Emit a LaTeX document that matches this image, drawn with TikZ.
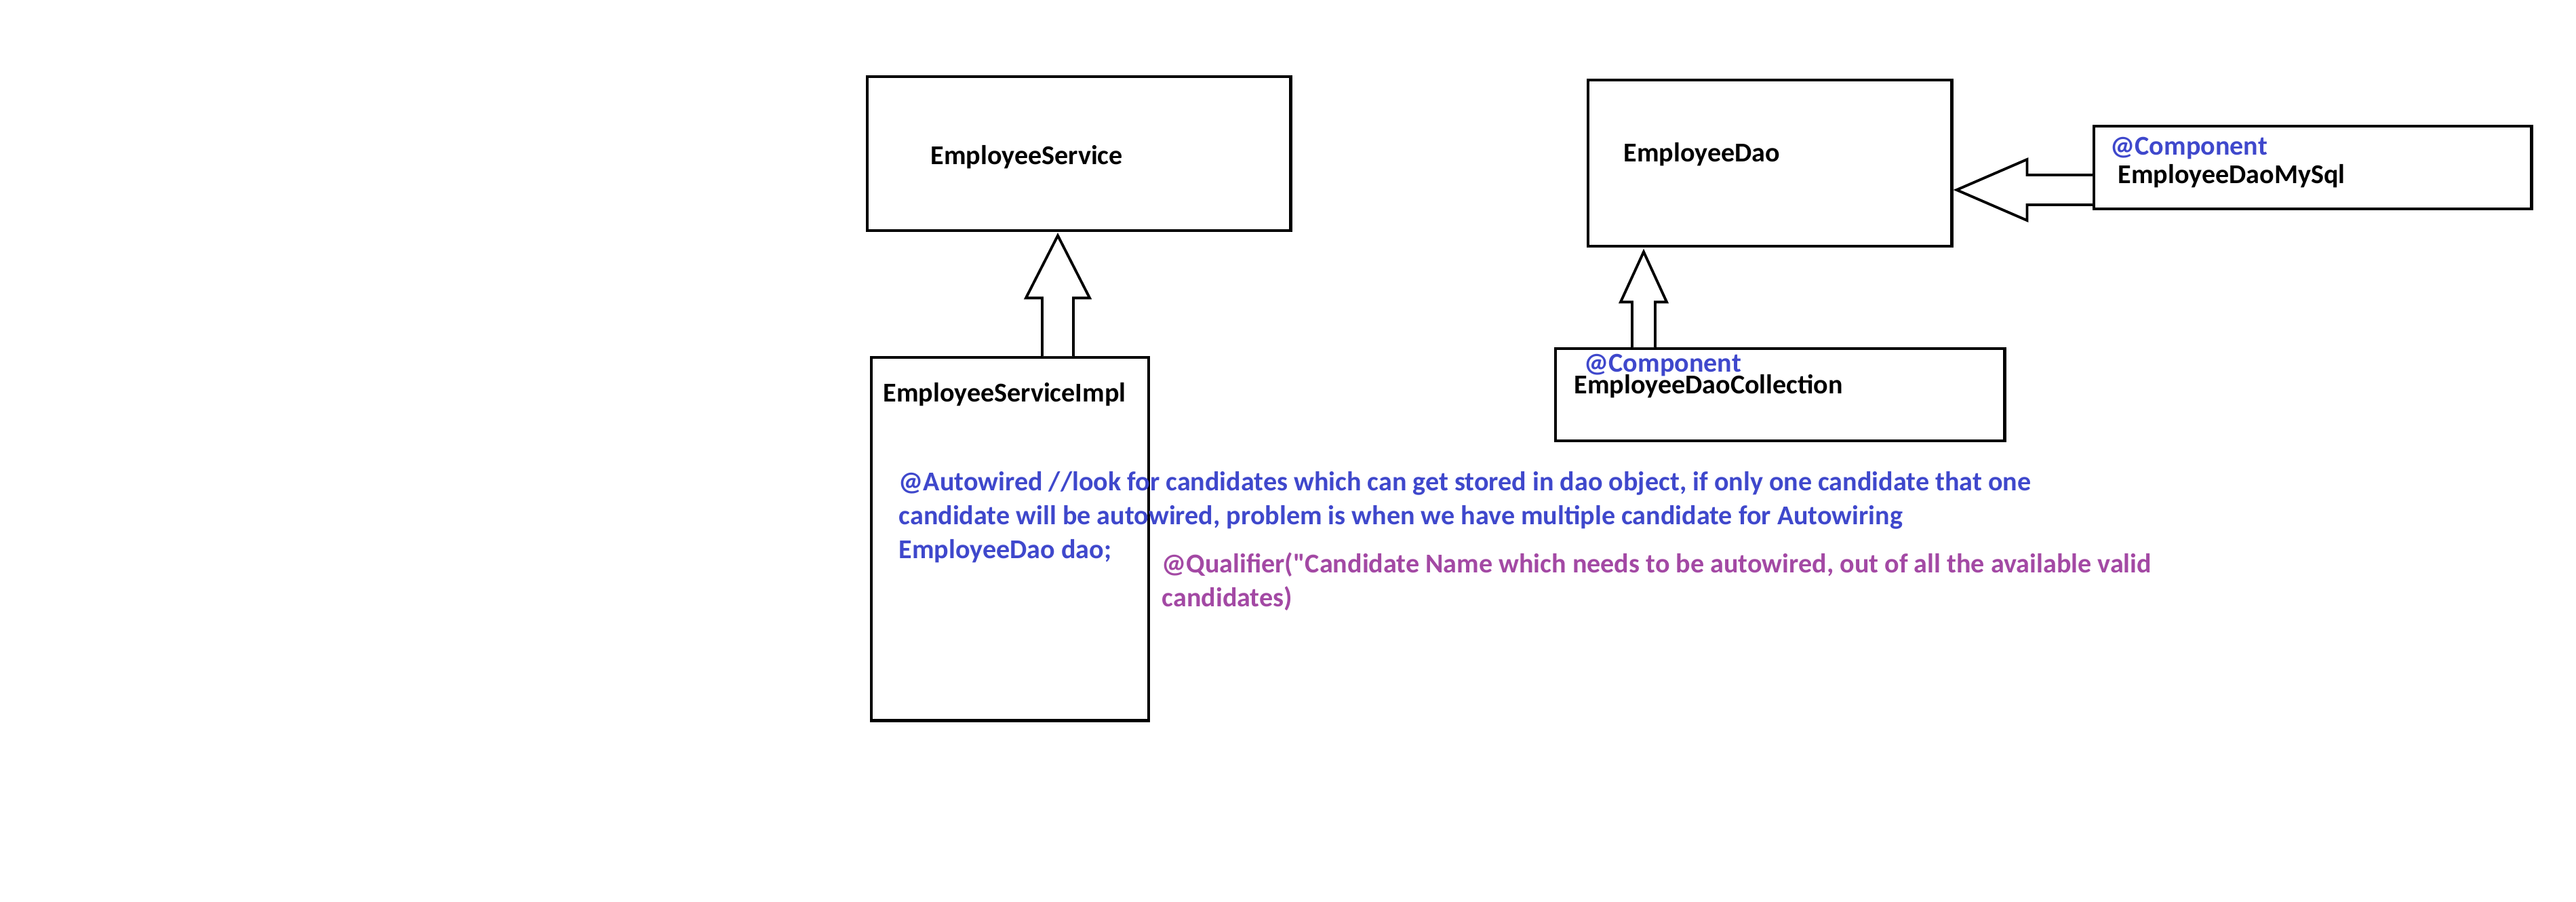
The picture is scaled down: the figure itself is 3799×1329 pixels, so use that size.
\documentclass[tikz,border=0pt]{standalone}
\usepackage{fontspec}
\setmainfont{Carlito}[Ligatures=TeXOff]
\usetikzlibrary{calc}
\definecolor{annoblue}{RGB}{63,72,204}
\definecolor{annopurple}{RGB}{163,73,164}
\begin{document}
\begin{tikzpicture}[x=0.01cm,y=-0.01cm,
  box/.style={draw=black,line width=1.2pt,rectangle,inner sep=0pt,anchor=north west},
  lbl/.style={inner sep=0pt,anchor=base west,font=\fontsize{11.4}{14.2}\selectfont\bfseries},
  blockarrow/.style={draw=black,line width=1.1pt,line join=miter,fill=white}]
\useasboundingbox (0,0) rectangle (3799,1329);
\fill[white] (0,0) rectangle (3799,1329);

% class boxes
\node[box,minimum width=6.24cm,minimum height=2.27cm] (svc) at (1277,111) {};
\node[box,minimum width=4.09cm,minimum height=5.35cm] (impl) at (1283,525) {};
\node[box,minimum width=5.36cm,minimum height=2.45cm] (dao) at (2340,116) {};
\node[box,minimum width=6.45cm,minimum height=1.22cm] (mysql) at (3086,184) {};
\node[box,minimum width=6.62cm,minimum height=1.36cm] (coll) at (2292,512) {};

% box titles
\node[lbl] (svcname) at (1372,242) {EmployeeService};
\node[lbl] (implname) at (1302,592) {EmployeeServiceImpl};
\node[lbl] (daoname) at (2394,238) {EmployeeDao};
\node[lbl,text=annoblue] (mysqlann) at (3112,228) {@Component};
\node[lbl] (mysqlname) at (3123,270) {EmployeeDaoMySql};
\node[lbl,text=annoblue] (collann) at (2336,548) {@Component};
\node[lbl] (collname) at (2321,580) {EmployeeDaoCollection};

% field declaration notes
\node[lbl,text=annoblue] (aw1) at (1325,723) {@Autowired //look for candidates which can get stored in dao object, if only one candidate that one};
\node[lbl,text=annoblue] (aw2) at (1325,773) {candidate will be autowired, problem is when we have multiple candidate for Autowiring};
\node[lbl,text=annoblue] (aw3) at (1325,823) {EmployeeDao dao;};
\node[lbl,text=annopurple] (q1) at (1713,844) {@Qualifier("Candidate Name which needs to be autowired, out of all the available valid};
\node[lbl,text=annopurple] (q2) at (1713,894) {candidates)};

% EmployeeServiceImpl implements EmployeeService
\coordinate (a1x) at (1560,0);
\coordinate (a1tip) at ($(a1x |- svc.south)+(0,5)$);
\coordinate (a1foot) at (a1x |- impl.north);
\draw[blockarrow] ($(a1foot)+(-23,0)$) -- ($(a1tip)+(-23,92)$) -- ($(a1tip)+(-47,92)$)
  -- (a1tip) -- ($(a1tip)+(47,92)$) -- ($(a1tip)+(23,92)$) -- ($(a1foot)+(23,0)$);

% EmployeeDaoCollection implements EmployeeDao
\coordinate (a2x) at (2424,0);
\coordinate (a2tip) at ($(a2x |- dao.south)+(0,6)$);
\coordinate (a2foot) at (a2x |- coll.north);
\draw[blockarrow] ($(a2foot)+(-17,0)$) -- ($(a2tip)+(-17,74)$) -- ($(a2tip)+(-34,74)$)
  -- (a2tip) -- ($(a2tip)+(34,74)$) -- ($(a2tip)+(17,74)$) -- ($(a2foot)+(17,0)$);

% EmployeeDaoMySql implements EmployeeDao
\coordinate (a3y) at (0,280);
\coordinate (a3tip) at ($(dao.east |- a3y)+(5,0)$);
\coordinate (a3foot) at (mysql.west |- a3y);
\draw[blockarrow] ($(a3foot)+(0,-22)$) -- ($(a3tip)+(104,-22)$) -- ($(a3tip)+(104,-45)$)
  -- (a3tip) -- ($(a3tip)+(104,45)$) -- ($(a3tip)+(104,22)$) -- ($(a3foot)+(0,22)$);
\end{tikzpicture}
\end{document}
